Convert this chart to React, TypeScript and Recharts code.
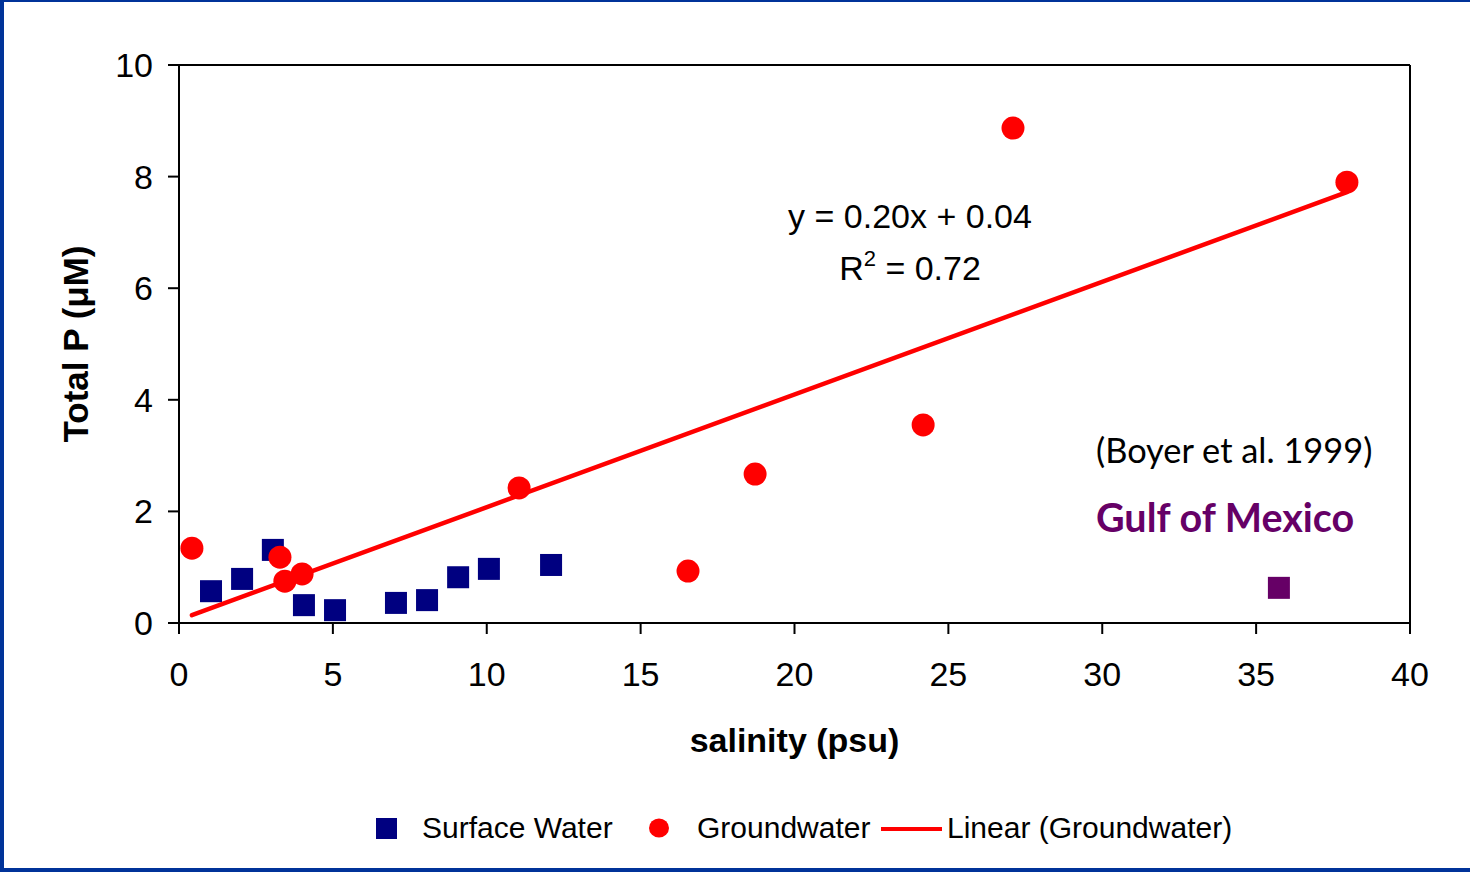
import React from "react";
import {
  ScatterChart,
  Scatter,
  XAxis,
  YAxis,
  ReferenceLine,
  Legend,
  Customized,
} from "recharts";

// values (salinity psu, Total P µM)
const surfaceX = [1.04, 2.05, 3.05, 4.06, 5.07, 7.05, 8.06, 9.07, 10.07, 12.09];
const surfaceY = [0.57, 0.79, 1.31, 0.32, 0.23, 0.36, 0.41, 0.82, 0.97, 1.04];
const groundX = [0.42, 3.28, 3.44, 4.0, 11.05, 16.54, 18.72, 24.18, 27.1, 37.95];
const groundY = [1.34, 1.18, 0.75, 0.88, 2.42, 0.93, 2.67, 3.55, 8.87, 7.9];
const gulfX = [35.74];
const gulfY = [0.63];
const trendX = [0.42, 37.95];
const trendY = [0.14, 7.72];

const xTicks = [0, 5, 10, 15, 20, 25, 30, 35, 40];
const yTicks = [0, 2, 4, 6, 8, 10];

const zip = (xs: number[], ys: number[]) => xs.map((x, i) => ({ x, y: ys[i] }));

const surface = zip(surfaceX, surfaceY);
const ground = zip(groundX, groundY);
const gulf = zip(gulfX, gulfY);
const trend = zip(trendX, trendY);

const ARIAL = "'Liberation Sans', Arial, sans-serif";
const CALIBRI = "Lato, 'Open Sans', sans-serif";

const NAVY = "#000080";
const RED = "#FF0000";
const PURPLE = "#660066";

const square = (color: string) => (p: any) =>
  <rect x={p.cx - 11} y={p.cy - 11} width={22} height={22} fill={color} />;

const dot = (p: any) => <circle cx={p.cx} cy={p.cy} r={11.5} fill={RED} />;

// legend layout (marker left edge, text start)
const legendMarkerX = [376, 649, 881];
const legendTextX = [422, 697, 947];

function LegendContent(props: any) {
  const items = (props.payload || []).filter((e: any) => e.type !== "none");
  return (
    <svg width={1470} height={90} style={{ display: "block" }}>
      {items.map((e: any, i: number) => {
        const mx = legendMarkerX[i];
        let marker = null;
        if (e.type === "square")
          marker = <rect x={mx} y={36} width={21} height={21} fill={NAVY} />;
        else if (e.type === "circle")
          marker = <ellipse cx={mx + 10} cy={46} rx={10} ry={9.5} fill={RED} />;
        else
          marker = <line x1={mx} x2={mx + 61} y1={47} y2={47} stroke={RED} strokeWidth={4} />;
        return (
          <g key={e.value}>
            {marker}
            <text x={legendTextX[i]} y={56} fontFamily={ARIAL} fontSize={30} fill="#000">
              {e.value}
            </text>
          </g>
        );
      })}
    </svg>
  );
}

function Notes() {
  return (
    <g>
      <text x={910} y={228} textAnchor="middle" fontFamily={ARIAL} fontSize={34} fill="#000">
        y = 0.20x + 0.04
      </text>
      <text x={910} y={280} textAnchor="middle" fontFamily={ARIAL} fontSize={34} fill="#000">
        R<tspan dy={-14} fontSize={22}>2</tspan>
        <tspan dy={14}> = 0.72</tspan>
      </text>
      <rect x={1086} y={417} width={334} height={64} fill="#fff" />
      <text x={1096} y={463} fontFamily={CALIBRI} fontSize={34.4} fill="#000">
        (Boyer et al. 1999)
      </text>
      <text x={1096} y={532} fontFamily={CALIBRI} fontSize={39.5} fontWeight="bold" fill={PURPLE}>
        Gulf of Mexico
      </text>
    </g>
  );
}

export default function App() {
  const tickStyle = { fill: "#000", fontSize: 34, fontFamily: ARIAL };
  const axisStroke = { stroke: "#000", strokeWidth: 2 };

  return (
    <div
      style={{
        position: "fixed",
        left: 0,
        top: 0,
        width: 1470,
        height: 872,
        background: "#fff",
        boxSizing: "border-box",
        borderLeft: "4px solid #003399",
        borderTop: "2px solid #003399",
        borderBottom: "4px solid #003399",
      }}
    >
      <div style={{ position: "absolute", left: -4, top: -2 }}>
        <ScatterChart width={1470} height={872} margin={{ top: 65, right: 60, bottom: 0, left: 0 }}>
          <XAxis
            type="number"
            dataKey="x"
            domain={[0, 40]}
            ticks={xTicks}
            interval={0}
            height={159}
            tickSize={11}
            tickMargin={28}
            tick={tickStyle}
            axisLine={axisStroke}
            tickLine={axisStroke}
            label={{
              value: "salinity (psu)",
              position: "insideBottom",
              offset: 30,
              fill: "#000",
              fontSize: 34,
              fontWeight: "bold",
              fontFamily: ARIAL,
            }}
          />
          <YAxis
            type="number"
            dataKey="y"
            domain={[0, 10]}
            ticks={yTicks}
            interval={0}
            width={179}
            tickSize={11}
            tickMargin={15}
            tick={tickStyle}
            axisLine={axisStroke}
            tickLine={axisStroke}
            label={{
              content: (p: any) => {
                const vb = p.viewBox;
                const cx = vb.x + 75;
                const cy = vb.y + vb.height / 2;
                return (
                  <text
                    x={cx}
                    y={cy}
                    transform={`rotate(-90 ${cx} ${cy})`}
                    textAnchor="middle"
                    dominantBaseline="central"
                    fontFamily={ARIAL}
                    fontSize={35}
                    fontWeight="bold"
                    fill="#000"
                  >
                    Total P (μM)
                  </text>
                );
              },
            }}
          />
          <ReferenceLine y={10} stroke="#000" strokeWidth={2} />
          <ReferenceLine x={40} stroke="#000" strokeWidth={2} />

          <Scatter name="Surface Water" data={surface} legendType="square" fill={NAVY} shape={square(NAVY)} isAnimationActive={false} />
          <Scatter name="Gulf of Mexico" data={gulf} legendType="none" fill={PURPLE} shape={square(PURPLE)} isAnimationActive={false} />
          <Scatter
            name="Linear (Groundwater)"
            data={trend}
            legendType="line"
            fill={RED}
            line={{ stroke: RED, strokeWidth: 4.5, strokeLinecap: "round" }}
            shape={() => <g />}
            isAnimationActive={false}
          />
          <Scatter name="Groundwater" data={ground} legendType="circle" fill={RED} shape={dot} isAnimationActive={false} />

          <Customized component={Notes} />
          <Legend
            verticalAlign="bottom"
            content={(p: any) => {
              const order = ["Surface Water", "Groundwater", "Linear (Groundwater)"];
              const payload = [...(p.payload || [])].sort(
                (a: any, b: any) => order.indexOf(a.value) - order.indexOf(b.value)
              );
              return <LegendContent payload={payload} />;
            }}
            wrapperStyle={{ left: 0, width: 1470, height: 90 }}
          />
        </ScatterChart>
      </div>
    </div>
  );
}
